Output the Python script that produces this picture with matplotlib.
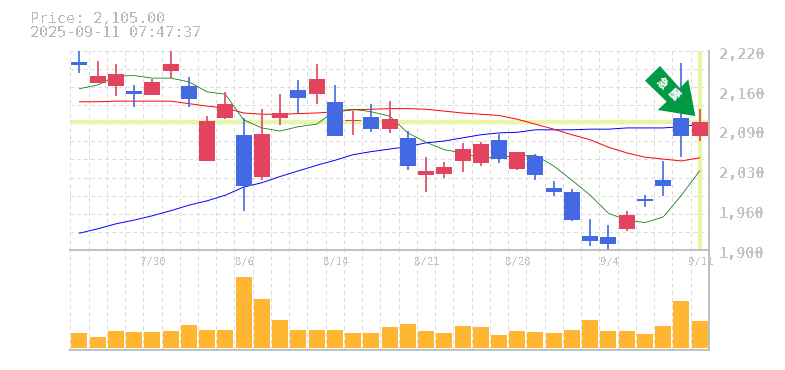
import matplotlib
matplotlib.use("Agg")
import matplotlib.pyplot as plt
from matplotlib.patches import Polygon

plt.rcParams["text.antialiased"] = False
plt.rcParams["text.hinting"] = "native"

W, H = 785, 370
MONO = "DejaVu Sans Mono"
GRAY = "#c0c0c0"
TXT = "#c4c4c4"
GRID = "#dcdcdc"
RED = "#e2435f"
BLUE = "#436ae2"
LIME = "#e6f5a8"
ORANGE = "#ffb733"
GREEN = "#009944"

opens = [2202,2168,2163,2155,2149,2187,2163,2043,2112,2085,2017,2112,2157,2150,2138,2107,2114,2094,2080,2020,2022,2043,2040,2077,2030,2051,2000,1993,1922,1921,1934,1982,2012,2112,2083]
highs = [2221,2203,2199,2165,2175,2221,2178,2115,2154,2112,2126,2150,2173,2199,2165,2123,2134,2139,2091,2049,2041,2072,2073,2086,2057,2054,2011,1998,1950,1940,1963,1988,2043,2200,2126]
lows = [2184,2168,2147,2130,2149,2176,2130,2043,2110,1963,2012,2101,2120,2134,2083,2085,2089,2088,2028,1993,2016,2025,2035,2040,2028,2012,1987,1947,1906,1902,1931,1969,1987,2049,2075]
closes = [2197,2179,2183,2150,2170,2199,2142,2107,2134,2003,2086,2120,2144,2175,2083,2109,2094,2110,2035,2027,2033,2062,2070,2046,2057,2020,1993,1948,1914,1910,1956,1979,2003,2083,2105]
ma_short = [2159,2165,2179,2180,2176,2176,2170,2154,2150,2109,2096,2091,2098,2102,2123,2126,2122,2115,2088,2073,2061,2056,2048,2049,2051,2052,2035,2012,1988,1959,1948,1944,1953,1988,2027]
ma_mid = [2138,2138,2139,2139,2139,2139,2135,2131,2128,2120,2118,2118,2119,2120,2122,2125,2126,2127,2127,2126,2123,2120,2118,2116,2110,2102,2094,2085,2077,2065,2056,2049,2046,2043,2048]
ma_long = [1927,1934,1942,1948,1955,1963,1972,1979,1988,2001,2008,2018,2027,2036,2044,2053,2058,2062,2066,2072,2075,2080,2085,2088,2089,2093,2093,2093,2094,2094,2096,2096,2096,2098,2102]
volumes = [15,11,17,16,16,17,23,18,18,71,49,28,18,18,18,15,15,21,24,17,15,22,21,13,17,16,15,18,28,17,17,14,22,47,27]
date_ticks = [4,9,14,19,24,29,34]
date_labels = ["7/30","8/6","8/14","8/21","8/28","9/4","9/11"]
price_ticks = [2220,2156,2092,2028,1964,1900]
price_labels = ["2,220","2,160","2,090","2,030","1,960","1,900"]
last_price = 2105
title_lines = ["Price: 2,105.00", "2025-09-11 07:47:37"]
badge_chars = ["急", "騰"]

fig = plt.figure(figsize=(W/100, H/100), dpi=100)
fig.patch.set_facecolor("white")

def rect(l, t, r, b):
    return [l/W, 1-b/H, (r-l)/W, (b-t)/H]

L, R = 70.3, 708.8
ax = fig.add_axes(rect(L, 50.7, R, 250))
vx = fig.add_axes(rect(L, 250, R, 350))
n = len(closes)
xs = list(range(n))
for a in (ax, vx):
    a.set_xlim(-0.5, n-0.5)
    a.set_xticks([i-0.5 for i in range(n)])
    a.grid(True, axis="x", color=GRID, lw=0.72, ls=(0, (4, 4)), zorder=0, clip_on=False, antialiased=False)
    a.tick_params(length=0, labelbottom=False, labelleft=False)
    a.set_axisbelow(True)
    for s in a.spines.values():
        s.set_visible(False)
    for s in ("right", "bottom"):
        a.spines[s].set_visible(True)
        a.spines[s].set_color(GRAY)
        a.spines[s].set_linewidth(1.4)

ax.set_ylim(1900, 2220)
ax.set_yticks([1900 + 320*k/11 for k in range(1, 12)])
ax.grid(True, axis="y", color=GRID, lw=0.72, ls=(0, (4, 4)), zorder=0, clip_on=False, antialiased=False)
vx.set_ylim(-2, 98)
vx.set_yticks([])
vx.spines["top"].set_visible(True)
vx.spines["top"].set_color(GRAY)
vx.spines["top"].set_linewidth(1.4)

ax.axhline(last_price, color=LIME, lw=3.2, zorder=1)
ax.axvline(n-1, color=LIME, lw=3.2, zorder=1)
ax.plot(xs, ma_long, color="#0000ff", lw=0.7, zorder=2)
ax.plot(xs, ma_mid, color="#ff0000", lw=0.7, zorder=2)
ax.plot(xs, ma_short, color="#007a00", lw=0.55, zorder=2)

width = 16/18.24
for i in xs:
    c = RED if closes[i] >= opens[i] else BLUE
    ax.vlines(i, lows[i], highs[i], color=c, lw=1.2, zorder=3)
    ax.bar(i, abs(closes[i]-opens[i]), bottom=min(opens[i], closes[i]), width=width, color=c, lw=0, zorder=4)
vx.bar(xs, volumes, width=width, color=ORANGE, lw=0, zorder=3)

for i, lab in zip(date_ticks, date_labels):
    vx.annotate(lab, (i, 1), xycoords=("data", "axes fraction"), xytext=(1, -12),
                textcoords="offset pixels", ha="center", va="center",
                family=MONO, fontsize=7.6, color=TXT, zorder=5)
for t, lab in zip(price_ticks, price_labels):
    ax.annotate(lab, (1, t), xycoords=("axes fraction", "data"), xytext=(10, -4),
                textcoords="offset pixels", ha="left", va="center",
                family=MONO, fontsize=10.9, fontweight="bold", color=TXT, annotation_clip=False)

for s, y in zip(title_lines, (19, 33)):
    fig.text(29.5/W, 1-y/H, s, family=MONO, fontsize=10.8, color="#b8b8b8", ha="left", va="center")

pts = [(660,66),(645,80.7),(666.7,101.7),(657.7,110),(695.3,116),(688.3,79.3),(680,88.3)]
fig.add_artist(Polygon([(x/W, 1-y/H) for x, y in pts], closed=True, transform=fig.transFigure,
                       facecolor=GREEN, edgecolor="none", zorder=10))
for ch, (px, py) in zip(badge_chars, [(661.7, 83), (674, 94)]):
    t = fig.text(px/W, 1-py/H, ch, family=["Noto Sans CJK JP", "DejaVu Sans"], fontsize=7.6, fontweight="bold",
             color="white", rotation=-45, rotation_mode="anchor", ha="center", va="center", zorder=11)
    t.set_antialiased(True)

fig.savefig("out.png", dpi=100)
